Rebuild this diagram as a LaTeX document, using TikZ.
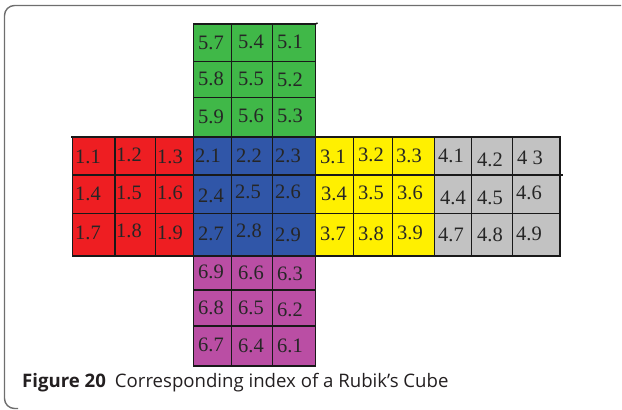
\documentclass[tikz,border=0pt]{standalone}
\usepackage{fontspec}
\setmainfont{Liberation Serif}
\newfontfamily\capfont{Open Sans}
\definecolor{cred}{RGB}{238,30,34}
\definecolor{cgreen}{RGB}{64,184,72}
\definecolor{cblue}{RGB}{48,86,168}
\definecolor{cyellow}{RGB}{255,240,0}
\definecolor{cgray}{RGB}{194,194,194}
\definecolor{cmag}{RGB}{186,78,164}
\definecolor{ctext}{RGB}{35,31,32}
\definecolor{cborder}{RGB}{110,110,110}
\tikzset{
  cellbox/.style={draw=black!90, line width=1.5pt},
  celltext/.style={inner sep=0pt, font=\fontsize{20.5}{20.5}\selectfont, text=black!85},
}
\begin{document}
\begin{tikzpicture}[x=1pt,y=-1pt]
\useasboundingbox (0,0) rectangle (622,410);
% border
\draw[cborder, line width=1.4pt, rounded corners=10pt] (621,5.5) -- (4.5,5.5) -- (4.5,408.5) -- (18,408.5);
% green face (5)
\foreach \ya/\yb in {24/61.7, 61.7/97.7, 97.7/137}{
  \foreach \xa/\xb in {193.5/231.5, 231.5/272.3, 272.3/315.5}{
    \path[cellbox, fill=cgreen] (\xa,\ya) rectangle (\xb,\yb);
  }
}
% middle band: faces 1 to 4
\foreach \ya/\yb in {137/175, 175/213.3, 213.3/256}{
  \foreach \xa/\xb in {72.7/115, 115/155.7, 155.7/193.5}{
    \path[cellbox, fill=cred] (\xa,\ya) rectangle (\xb,\yb);
  }
  \foreach \xa/\xb in {193.5/231.5, 231.5/272.3, 272.3/315.5}{
    \path[cellbox, fill=cblue] (\xa,\ya) rectangle (\xb,\yb);
  }
  \foreach \xa/\xb in {315.5/353.3, 353.3/392.7, 392.7/434.3}{
    \path[cellbox, fill=cyellow] (\xa,\ya) rectangle (\xb,\yb);
  }
  \foreach \xa/\xb in {434.3/471.7, 471.7/512.3, 512.3/560}{
    \path[cellbox, fill=cgray] (\xa,\ya) rectangle (\xb,\yb);
  }
}
% magenta face (6)
\foreach \ya/\yb in {256/290, 290/326, 326/366}{
  \foreach \xa/\xb in {193.5/231.5, 231.5/272.3, 272.3/315.5}{
    \path[cellbox, fill=cmag] (\xa,\ya) rectangle (\xb,\yb);
  }
}
% slight line overhangs
\draw[black!90, line width=1.5pt] (71,137) -- (72.7,137);
\draw[black!90, line width=1.5pt] (560,175) -- (563,175);
\draw[black!90, line width=1.5pt] (315.5,24) -- (317.5,23);
% labels
\foreach \x/\y/\t/\n in {
 211/43/5.7/a57, 251/42/5.4/a54, 290/42/5.1/a51,
 211/79/5.8/a58, 251/79/5.5/a55, 290/80/5.2/a52,
 211/117/5.9/a59, 251/116/5.6/a56, 290/116/5.3/a53,
 88/157/1.1/a11, 129/155/1.2/a12, 170/157/1.3/a13,
 88/194/1.4/a14, 129/193/1.5/a15, 170/193/1.6/a16,
 88/233/1.7/a17, 129/231/1.8/a18, 170/233/1.9/a19,
 208/156/2.1/a21, 249/156/2.2/a22, 288/156/2.3/a23,
 211/196/2.4/a24, 248/192/2.5/a25, 288/192/2.6/a26,
 211/234/2.7/a27, 249/231/2.8/a28, 288/235/2.9/a29,
 333/157/3.1/a31, 371/155/3.2/a32, 409/156/3.3/a33,
 334/194/3.4/a34, 371/193/3.5/a35, 410/193/3.6/a36,
 333/234/3.7/a37, 371/234/3.8/a38, 410/233/3.9/a39,
 451/156/4.1/a41, 490/160/4.2/a42, 530/158/4 3/a43,
 453/198/4.4/a44, 490/198/4.5/a45, 529/193/4.6/a46,
 451/235/4.7/a47, 490/235/4.8/a48, 529/234/4.9/a49,
 211/272/6.9/a69, 251/273/6.6/a66, 290/274/6.3/a63,
 211/308/6.8/a68, 251/308/6.5/a65, 290/310/6.2/a62,
 211/345/6.7/a67, 251/346/6.4/a64, 290/346/6.1/a61}{
  \node[celltext] (\n) at (\x,\y) {\t};
}
% caption
\node[anchor=base west, inner sep=0pt, text=ctext, font=\capfont\fontsize{18.6}{18.6}\selectfont] (cap) at (22,387)
  {\textbf{Figure 20}\hspace{9pt}Corresponding index of a Rubik’s Cube};
\end{tikzpicture}
\end{document}
